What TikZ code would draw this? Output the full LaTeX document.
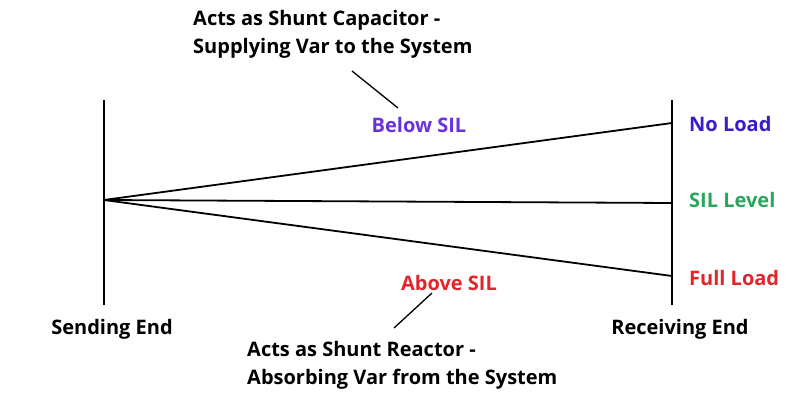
\documentclass[tikz,border=0pt]{standalone}
\usepackage{fontspec}
\setmainfont{Open Sans}
\definecolor{noload}{HTML}{3A1CC8}
\definecolor{below}{HTML}{6A32DC}
\definecolor{sil}{HTML}{2CA55C}
\definecolor{full}{HTML}{E0262B}
\begin{document}
\begin{tikzpicture}[x=1pt,y=-1pt,
  lbl/.style={font=\fontsize{20}{28.5}\selectfont\bfseries, inner sep=0pt},
  wire/.style={line width=1.8pt, black},
  ptr/.style={line width=1.3pt, black}]
\useasboundingbox (0,0) rectangle (800,417);
\coordinate (st) at (104,100);
\coordinate (sb) at (104,305);
\coordinate (rt) at (672,100);
\coordinate (rb) at (672,305);
\coordinate (src) at (104,200);
\coordinate (nl) at (672,123);
\coordinate (sl) at (672,203);
\coordinate (fl) at (672,276);
\draw[wire] (st) -- (sb);
\draw[wire] (rt) -- (rb);
\draw[wire] (src) -- (nl);
\draw[wire] (src) -- (sl);
\draw[wire] (src) -- (fl);
\node[lbl, text=noload, anchor=west] (tnl) at (689,124) {No Load};
\node[lbl, text=sil, anchor=west] (tsl) at (689,200) {SIL Level};
\node[lbl, text=full, anchor=west] (tfl) at (689,278) {Full Load};
\node[lbl] (send) at (112,329) {Sending End};
\node[lbl] (recv) at (680,329) {Receiving End};
\node[lbl, text=below] (bsil) at (419,125) {Below SIL};
\node[lbl, text=full] (asil) at (449,283) {Above SIL};
\node[lbl, anchor=north west, align=left] (cap) at (193,10) {Acts as Shunt Capacitor -\\Supplying Var to the System};
\node[lbl, anchor=north west, align=left] (rea) at (247,341) {Acts as Shunt Reactor -\\Absorbing Var from the System};
\coordinate (c1) at (352,71);
\coordinate (c2) at (398,108);
\coordinate (r1) at (432,293);
\coordinate (r2) at (394,328);
\draw[ptr] (c1) -- (c2);
\draw[ptr] (r1) -- (r2);
\end{tikzpicture}
\end{document}
